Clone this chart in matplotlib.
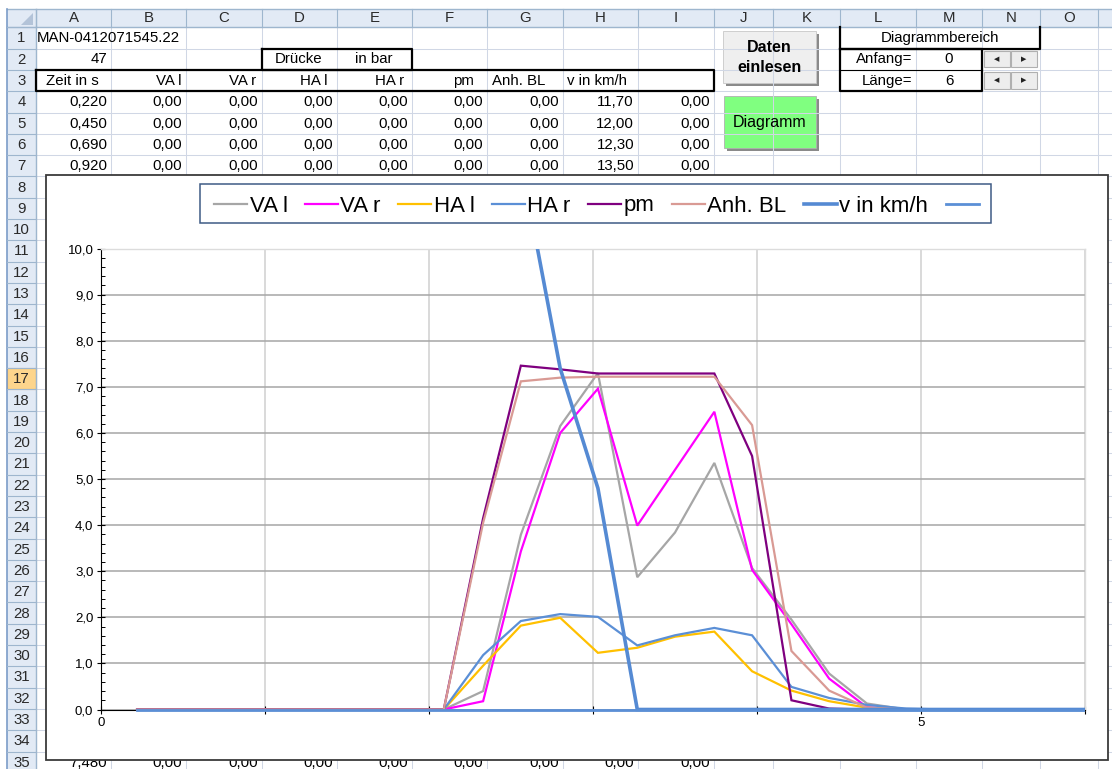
import matplotlib.pyplot as plt
from matplotlib.patches import Rectangle, Polygon
from matplotlib.ticker import MultipleLocator, FuncFormatter

plt.rcParams['font.family'] = ['Liberation Sans', 'DejaVu Sans']

# Messdaten: Zeit in s, Drücke in bar, Geschwindigkeit in km/h
zeit = [0.220, 0.450, 0.690, 0.920, 1.160, 1.390, 1.620, 1.860, 2.090, 2.330, 2.560,
        2.800, 3.030, 3.270, 3.500, 3.740, 3.970, 4.210, 4.440, 4.670, 4.910, 5.140,
        5.380, 5.610, 5.850, 6.080, 6.310, 6.550, 6.780, 7.010, 7.250, 7.480]
va_l = [0, 0, 0, 0, 0, 0, 0, 0, 0, 0.40, 3.79, 6.15, 7.30, 2.87, 3.84, 5.35, 3.07,
        1.95, 0.78, 0.13, 0, 0, 0, 0, 0, 0, 0, 0, 0, 0, 0, 0]
va_r = [0, 0, 0, 0, 0, 0, 0, 0, 0, 0.18, 3.43, 6.00, 6.96, 3.99, 5.20, 6.46, 3.03,
        1.85, 0.67, 0.05, 0, 0, 0, 0, 0, 0, 0, 0, 0, 0, 0, 0]
ha_l = [0, 0, 0, 0, 0, 0, 0, 0, 0, 0.95, 1.82, 1.99, 1.23, 1.34, 1.58, 1.69, 0.83,
        0.41, 0.18, 0.04, 0, 0, 0, 0, 0, 0, 0, 0, 0, 0, 0, 0]
ha_r = [0, 0, 0, 0, 0, 0, 0, 0, 0, 1.18, 1.92, 2.07, 2.01, 1.39, 1.61, 1.77, 1.61,
        0.49, 0.25, 0.10, 0.02, 0, 0, 0, 0, 0, 0, 0, 0, 0, 0, 0]
pm = [0, 0, 0, 0, 0, 0, 0, 0, 0, 4.15, 7.46, 7.38, 7.29, 7.29, 7.29, 7.29, 5.50,
      0.20, 0.02, 0, 0, 0, 0, 0, 0, 0, 0, 0, 0, 0, 0, 0]
anh_bl = [0, 0, 0, 0, 0, 0, 0, 0, 0, 4.05, 7.12, 7.20, 7.22, 7.22, 7.22, 7.22, 6.17,
          1.27, 0.41, 0.04, 0, 0, 0, 0, 0, 0, 0, 0, 0, 0, 0, 0]
v_kmh = [11.70, 12.00, 12.30, 13.50, 13.90, 14.20, 14.30, 14.00, 13.40, 12.80, 11.90,
         7.40, 4.80, 0, 0, 0, 0, 0, 0, 0, 0, 0, 0, 0, 0, 0, 0, 0, 0, 0, 0, 0]
spalte_i = [0, 0, 0, 0, 0, 0, 0, 0, 0, 0, 0, 0, 0, 0, 0, 0, 0, 0, 0, 0, 0, 0, 0, 0,
            0, 0, 0, 0, 0, 0, 0, 0]

labels = ['VA l', 'VA r', 'HA l', 'HA r', 'pm', 'Anh. BL', 'v in km/h', '']
colors = ['#a6a6a6', '#ff00ff', '#ffc000', '#5b8fd6', '#7f007f', '#d99a94', '#558ad3', '#5b8fd6']
widths = [1.6, 1.6, 1.6, 1.6, 1.6, 1.6, 2.6, 2.0]
series = [va_l, va_r, ha_l, ha_r, pm, anh_bl, v_kmh, spalte_i]

col_letters = list('ABCDEFGHIJKLMNO')
col_edges = [36, 111, 186, 262, 337, 412, 487, 563, 638, 714, 773, 840, 916, 982, 1040, 1098]
kopf = ['Zeit in s', 'VA l', 'VA r', 'HA l', 'HA r', 'pm', 'Anh. BL']
kopf_x = [72.5, 168.5, 242.5, 314, 390, 463, 519]

W, H = 1112, 769
fig = plt.figure(figsize=(W / 100, H / 100), dpi=100)
bg = fig.add_axes([0, 0, 1, 1])
bg.set_xlim(0, W)
bg.set_ylim(H, 0)
bg.axis('off')

top0, rh = 27.3, 21.3
def rtop(r):
    return top0 + (r - 1) * rh
def rmid(r):
    return rtop(r) + rh / 2

fs = 10.8
# cell grid
for r in range(1, 37):
    bg.plot([36, W], [rtop(r), rtop(r)], color='#d0d7e5', lw=0.75)
for x in col_edges:
    bg.plot([x, x], [top0, H], color='#d0d7e5', lw=0.75)

# column header
bg.add_patch(Rectangle((7, 9.3), W - 7, top0 - 9.3, fc='#e2eaf5', ec='none'))
bg.plot([7, W], [9.3, 9.3], color='#9eb6ce', lw=1)
bg.plot([7, W], [top0, top0], color='#9eb6ce', lw=1)
for x in col_edges:
    bg.plot([x, x], [9.3, top0], color='#9eb6ce', lw=0.8)
for i, c in enumerate(col_letters):
    bg.text((col_edges[i] + col_edges[i + 1]) / 2, 18.3, c, ha='center', va='center',
            fontsize=fs, color='#2a2a2a')
bg.add_patch(Polygon([[33, 12.5], [33, 25], [21, 25]], fc='#b3c3d8', ec='none'))

# row header
bg.add_patch(Rectangle((7, top0), 29, H - top0, fc='#e2eaf5', ec='none'))
bg.add_patch(Rectangle((7, rtop(17)), 29, rh, fc='#fdd58c', ec='#f2a13f', lw=0.8))
bg.plot([7, 7], [9.3, H], color='#7b9cc8', lw=1.2)
bg.plot([36, 36], [9.3, H], color='#9eb6ce', lw=1)
for r in range(1, 36):
    bg.plot([7, 36], [rtop(r), rtop(r)], color='#9eb6ce', lw=0.8)
    bg.text(21.5, rmid(r) + 0.5, str(r), ha='center', va='center', fontsize=fs, color='#2a2a2a')

# cell contents
bg.text(37, rmid(1), 'MAN-0412071545.22', ha='left', va='center', fontsize=fs)
bg.text(107, rmid(2), '47', ha='right', va='center', fontsize=fs)
bg.text(299, rmid(2), 'Drücke', ha='center', va='center', fontsize=fs)
bg.text(374, rmid(2), 'in bar', ha='center', va='center', fontsize=fs)
for x, t in zip(kopf_x, kopf):
    bg.text(x, rmid(3), t, ha='center', va='center', fontsize=fs)
bg.text(567, rmid(3), 'v in km/h', ha='left', va='center', fontsize=fs)

def zahl(v, n):
    return f'{v:.{n}f}'.replace('.', ',')

for r, k in [(4, 0), (5, 1), (6, 2), (7, 3), (35, 31)]:
    werte = [zahl(zeit[k], 3)] + [zahl(s[k], 2) for s in [va_l, va_r, ha_l, ha_r, pm, anh_bl, v_kmh, spalte_i]]
    for i, t in enumerate(werte):
        bg.text(col_edges[i + 1] - 4, rmid(r) + 0.5, t, ha='right', va='center', fontsize=fs)

# borders
def box(x0, y0, x1, y1, lw=1.6):
    bg.plot([x0, x1, x1, x0, x0], [y0, y0, y1, y1, y0], color='black', lw=lw)
box(262, rtop(2), 412, rtop(3))
box(36, rtop(3), 714, rtop(4))
bg.plot([840, 840, 1040, 1040], [rtop(1), rtop(2), rtop(2), rtop(1)], color='black', lw=1.6)
box(840, rtop(2), 982, rtop(4))
bg.plot([840, 982], [rtop(3), rtop(3)], color='black', lw=0.8)
bg.text(940, rmid(1), 'Diagrammbereich', ha='center', va='center', fontsize=fs)
bg.text(912, rmid(2), 'Anfang=', ha='right', va='center', fontsize=fs)
bg.text(949, rmid(2), '0', ha='center', va='center', fontsize=fs)
bg.text(912, rmid(3), 'Länge=', ha='right', va='center', fontsize=fs)
bg.text(949, rmid(3), '6', ha='center', va='center', fontsize=fs)
for r in (2, 3):
    for x0, sym in [(984, '◀'), (1011, '▶')]:
        bg.add_patch(Rectangle((x0, rtop(r) + 2.5), 26, rh - 5, fc='#ededed', ec='#b0b0b0', lw=0.8))
        bg.text(x0 + 13, rmid(r), sym, ha='center', va='center', fontsize=5,
                family='DejaVu Sans', color='#222222')

# buttons
bg.add_patch(Rectangle((726, 34), 93, 52, fc='#8a8a8a', ec='none'))
bg.add_patch(Rectangle((723, 31), 93, 52, fc='#efefef', ec='#c8c8c8', lw=0.6))
bg.text(769.5, 47, 'Daten', ha='center', va='center', fontsize=11.5, fontweight='bold')
bg.text(769.5, 68, 'einlesen', ha='center', va='center', fontsize=11.5, fontweight='bold')
bg.add_patch(Rectangle((727, 99), 92, 52, fc='#8a8a8a', ec='none'))
bg.add_patch(Rectangle((724, 96), 92, 52, fc='#80ff80', ec='#b0b0b0', lw=0.6))
bg.text(770, 122, 'Diagramm', ha='center', va='center', fontsize=11.5)

# chart area
bg.add_patch(Rectangle((45.5, 175), 1062.5, 585, fc='white', ec='#3a3a3a', lw=1.3, zorder=10))
bg.add_patch(Rectangle((200, 184), 791, 39, fc='white', ec='#3f5b85', lw=1.1, zorder=11))

ax = fig.add_axes([101 / W, 1 - 709.5 / H, (1085 - 101) / W, (709.5 - 248.6) / H])
ax.set_xlim(0, 6)
ax.set_ylim(0, 10)
clip = Rectangle((0, -0.3), 6, 10.3, transform=ax.transData)
handles = []
for s, lab, c, lw in zip(series, labels, colors, widths):
    ln, = ax.plot(zeit, s, color=c, lw=lw, label=lab, zorder=3, solid_joinstyle='miter')
    ln.set_clip_path(clip)
    handles.append(ln)

ax.yaxis.set_major_locator(MultipleLocator(1))
ax.yaxis.set_minor_locator(MultipleLocator(0.2))
ax.xaxis.set_major_locator(MultipleLocator(1))
ax.yaxis.set_major_formatter(FuncFormatter(lambda v, p: zahl(v, 1)))
ax.xaxis.set_major_formatter(FuncFormatter(lambda v, p: f'{v:g}' if round(v) in (0, 5) else ''))
ax.tick_params(axis='both', which='major', direction='inout', length=6, width=0.8,
               labelsize=9.5, pad=2.5)
ax.tick_params(axis='y', which='minor', direction='in', length=3, width=0.7)
ax.grid(axis='y', color='#a6a6a6', lw=1.1)
ax.grid(axis='x', color='#cfcfcf', lw=1.1)
ax.set_axisbelow(True)
for sp in ('left', 'bottom'):
    ax.spines[sp].set_color('black')
    ax.spines[sp].set_linewidth(0.8)
for sp in ('top', 'right'):
    ax.spines[sp].set_color('#dcdcdc')
    ax.spines[sp].set_linewidth(1)

ax.legend(handles, labels, loc='center left', bbox_to_anchor=(214 / W, 1 - 206 / H),
          bbox_transform=fig.transFigure, ncol=8, frameon=False, fontsize=16,
          handlelength=1.5, handletextpad=0.1, columnspacing=0.78, borderpad=0,
          borderaxespad=0)

fig.savefig('out.png', dpi=100)
